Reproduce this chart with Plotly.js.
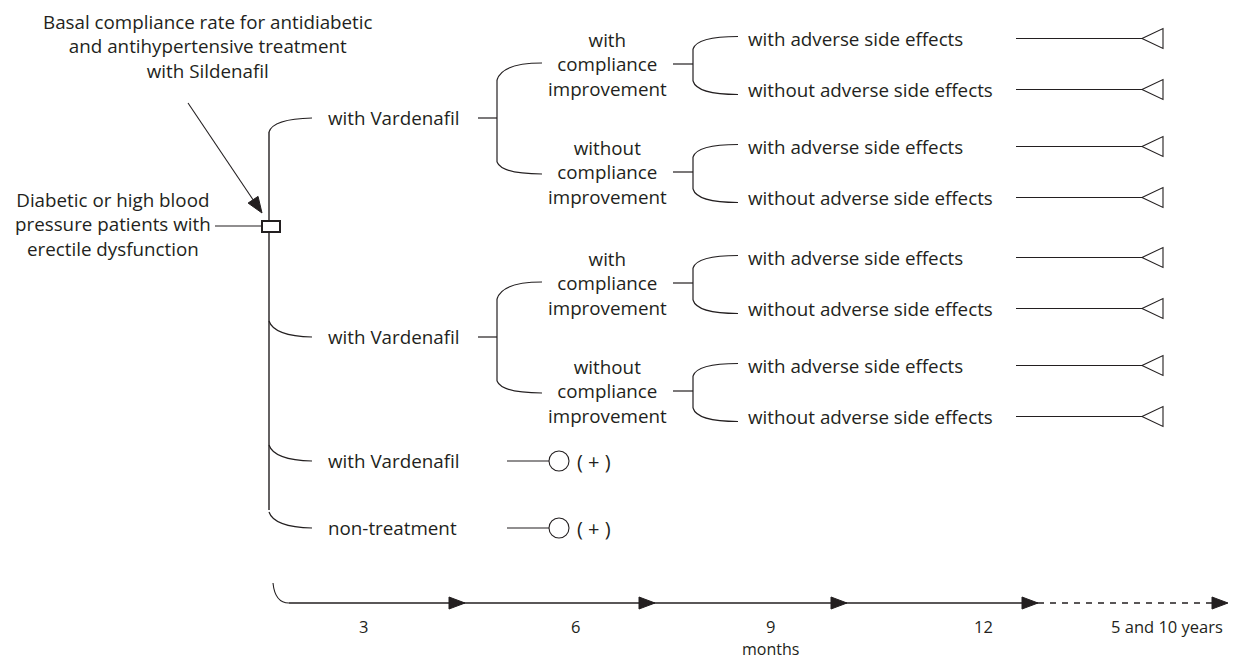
<!DOCTYPE html>
<html>
<head>
<meta charset="utf-8">
<script src="https://cdn.plot.ly/plotly-3.0.1.min.js"></script>
<style>html,body{margin:0;padding:0;background:#fff;}#chart{width:1246px;height:660px;}</style>
</head>
<body>
<div id="chart"></div>
<script>
// ---- content (labels) ----
const noteLabel = "Basal compliance rate for antidiabetic<br>and antihypertensive treatment<br>with Sildenafil";
const rootLabel = "Diabetic or high blood<br>pressure patients with<br>erectile dysfunction";
const branchLabels = ["with Vardenafil", "with Vardenafil", "with Vardenafil", "non-treatment"];
const branchHasSubtree = [true, true, false, false];
const complianceLabels = ["with<br>compliance<br>improvement", "without<br>compliance<br>improvement"];
const leafLabels = ["with adverse side effects", "without adverse side effects"];
const terminalLabel = "( + )";
const timeTickLabels = ["3", "6", "9", "12", "5 and 10 years"];
const timeUnitLabel = "months";

// ---- layout geometry (pixels; axes map 1 unit = 1 px) ----
const W = 1246, H = 660;
const INK = '#231f20';
const FONT = {family: 'Open Sans, Noto Sans, sans-serif', size: 18.8, color: INK};
const G = {
  trunkX: 269, branchEndX: 312, branchTextX: 327,
  branchY: [118, 337, 461, 528],
  stemX0: 478, splitX: 497, compEndX: 542, compTextX: 607, compOffset: 54,
  leafStemX0: 673, leafSplitX: 693, leafEndX: 738, leafTextX: 747, leafOffset: 25.5,
  leafLineX0: 1016, leafLineX1: 1142, leafTriBack: 1163,
  termLineX0: 507, termCircleX: 559, termR: 10, termTextX: 576,
  rootBox: [262, 221, 280, 232], rootLineX0: 215, rootY: 226, rootTextX: 113, rootTextY: 224,
  noteX: 208, noteY: 46, noteArrowFrom: [188, 103], noteArrowTo: [262, 213],
  timeY: 603, timeStart: [273, 583], timeX0: 289,
  timeArrowTips: [465, 655, 847, 1038, 1228], timeSolidEnd: 1038,
  timeLabelX: [363, 575, 770, 983, 1167], timeLabelY: 626, unitY: 649
};

const shapes = [];
const annotations = [];
function line(x0, y0, x1, y1, w, dash) {
  shapes.push({type: 'line', xref: 'x', yref: 'y', x0, y0, x1, y1,
    line: {color: INK, width: w || 1.2, dash: dash || 'solid'}});
}
function path(d, w, fill) {
  shapes.push({type: 'path', xref: 'x', yref: 'y', path: d,
    line: {color: INK, width: w || 1.2}, fillcolor: fill || 'rgba(0,0,0,0)'});
}
function text(t, x, y, xanchor, align, size) {
  annotations.push({text: t, x, y, xref: 'x', yref: 'y', showarrow: false,
    xanchor: xanchor || 'left', yanchor: 'middle', align: align || 'left', borderpad: 0,
    font: Object.assign({}, FONT, size ? {size} : {})});
}
function arrowHead(tipX, tipY, fromX, fromY, len, half) {
  const dx = tipX - fromX, dy = tipY - fromY, L = Math.hypot(dx, dy);
  const ux = dx / L, uy = dy / L, px = -uy, py = ux;
  const bx = tipX - ux * len, by = tipY - uy * len;
  path(`M${tipX},${tipY} L${bx + px * half},${by + py * half} L${bx - px * half},${by - py * half} Z`, 1, INK);
  return [bx, by];
}

// note + arrow
text(noteLabel, G.noteX, G.noteY, 'center', 'center');
{
  const [f, t] = [G.noteArrowFrom, G.noteArrowTo];
  const [bx, by] = arrowHead(t[0], t[1], f[0], f[1], 16, 6);
  line(f[0], f[1], bx, by, 1.1);
}

// root
text(rootLabel, G.rootTextX, G.rootTextY, 'center', 'center');
line(G.rootLineX0, G.rootY, G.rootBox[0], G.rootY, 1.2);

// trunk
const bY = G.branchY;
line(G.trunkX, bY[0] + 14, G.trunkX, bY[bY.length - 1] - 18, 1.4);
shapes.push({type: 'rect', xref: 'x', yref: 'y', x0: G.rootBox[0], y0: G.rootBox[1], x1: G.rootBox[2], y1: G.rootBox[3],
  line: {color: INK, width: 2}, fillcolor: '#fff'});

branchLabels.forEach((lab, i) => {
  const y = bY[i];
  if (i === 0) path(`M${G.trunkX},${y + 14} Q${G.trunkX + 4},${y + 1} ${G.branchEndX},${y}`);
  else path(`M${G.trunkX},${y - 16} Q${G.trunkX + 5},${y - 1} ${G.branchEndX},${y}`);
  text(lab, G.branchTextX, y, 'left');

  if (branchHasSubtree[i]) {
    line(G.stemX0, y, G.splitX, y);
    const cY = [y - G.compOffset, y + G.compOffset];
    line(G.splitX, y - 38, G.splitX, y + 44);
    path(`M${G.splitX},${y - 38} Q${G.splitX + 5},${cY[0] - 1} ${G.compEndX},${cY[0] - 1}`);
    path(`M${G.splitX},${y + 44} Q${G.splitX + 5},${cY[1] + 2} ${G.compEndX},${cY[1] + 2}`);
    complianceLabels.forEach((cl, j) => {
      const c = cY[j];
      text(cl, G.compTextX, c, 'center', 'center');
      line(G.leafStemX0, c, G.leafSplitX, c);
      line(G.leafSplitX, c - 15, G.leafSplitX, c + 17);
      const lY = [c - G.leafOffset, c + G.leafOffset];
      path(`M${G.leafSplitX},${c - 15} Q${G.leafSplitX + 4},${lY[0] - 2} ${G.leafEndX},${lY[0] - 2}`);
      path(`M${G.leafSplitX},${c + 17} Q${G.leafSplitX + 4},${lY[1] + 5} ${G.leafEndX},${lY[1] + 5}`);
      leafLabels.forEach((ll, k) => {
        const ly = lY[k];
        text(ll, G.leafTextX, ly, 'left');
        line(G.leafLineX0, ly, G.leafLineX1, ly);
        path(`M${G.leafLineX1},${ly} L${G.leafTriBack},${ly - 10} L${G.leafTriBack},${ly + 10} Z`, 1.1);
      });
    });
  } else {
    line(G.termLineX0, y, G.termCircleX - G.termR, y);
    shapes.push({type: 'circle', xref: 'x', yref: 'y',
      x0: G.termCircleX - G.termR, x1: G.termCircleX + G.termR, y0: y - G.termR, y1: y + G.termR,
      line: {color: INK, width: 1.1}});
    text(terminalLabel, G.termTextX, y, 'left', 'left', 20);
  }
});

// timeline
{
  const y = G.timeY;
  path(`M${G.timeStart[0]},${G.timeStart[1]} Q${G.timeStart[0] + 2},${y} ${G.timeX0},${y}`, 1.1);
  line(G.timeX0, y, G.timeSolidEnd, y, 1.3);
  line(G.timeSolidEnd, y, G.timeArrowTips[G.timeArrowTips.length - 1] - 14, y, 1.3, '6px,6px');
  G.timeArrowTips.forEach(t => arrowHead(t, y, t - 20, y, 16, 6));
  timeTickLabels.forEach((lab, i) => text(lab, G.timeLabelX[i], G.timeLabelY, 'center', 'center', 16.5));
  text(timeUnitLabel, G.timeLabelX[2], G.unitY, 'center', 'center', 16);
}

const layout = {
  width: W, height: H,
  margin: {l: 0, r: 0, t: 0, b: 0},
  paper_bgcolor: '#fff', plot_bgcolor: '#fff',
  xaxis: {range: [0, W], visible: false, fixedrange: true},
  yaxis: {range: [H, 0], visible: false, fixedrange: true},
  showlegend: false,
  shapes, annotations
};
Plotly.newPlot('chart', [], layout, {staticPlot: true, displayModeBar: false});
</script>
</body>
</html>
